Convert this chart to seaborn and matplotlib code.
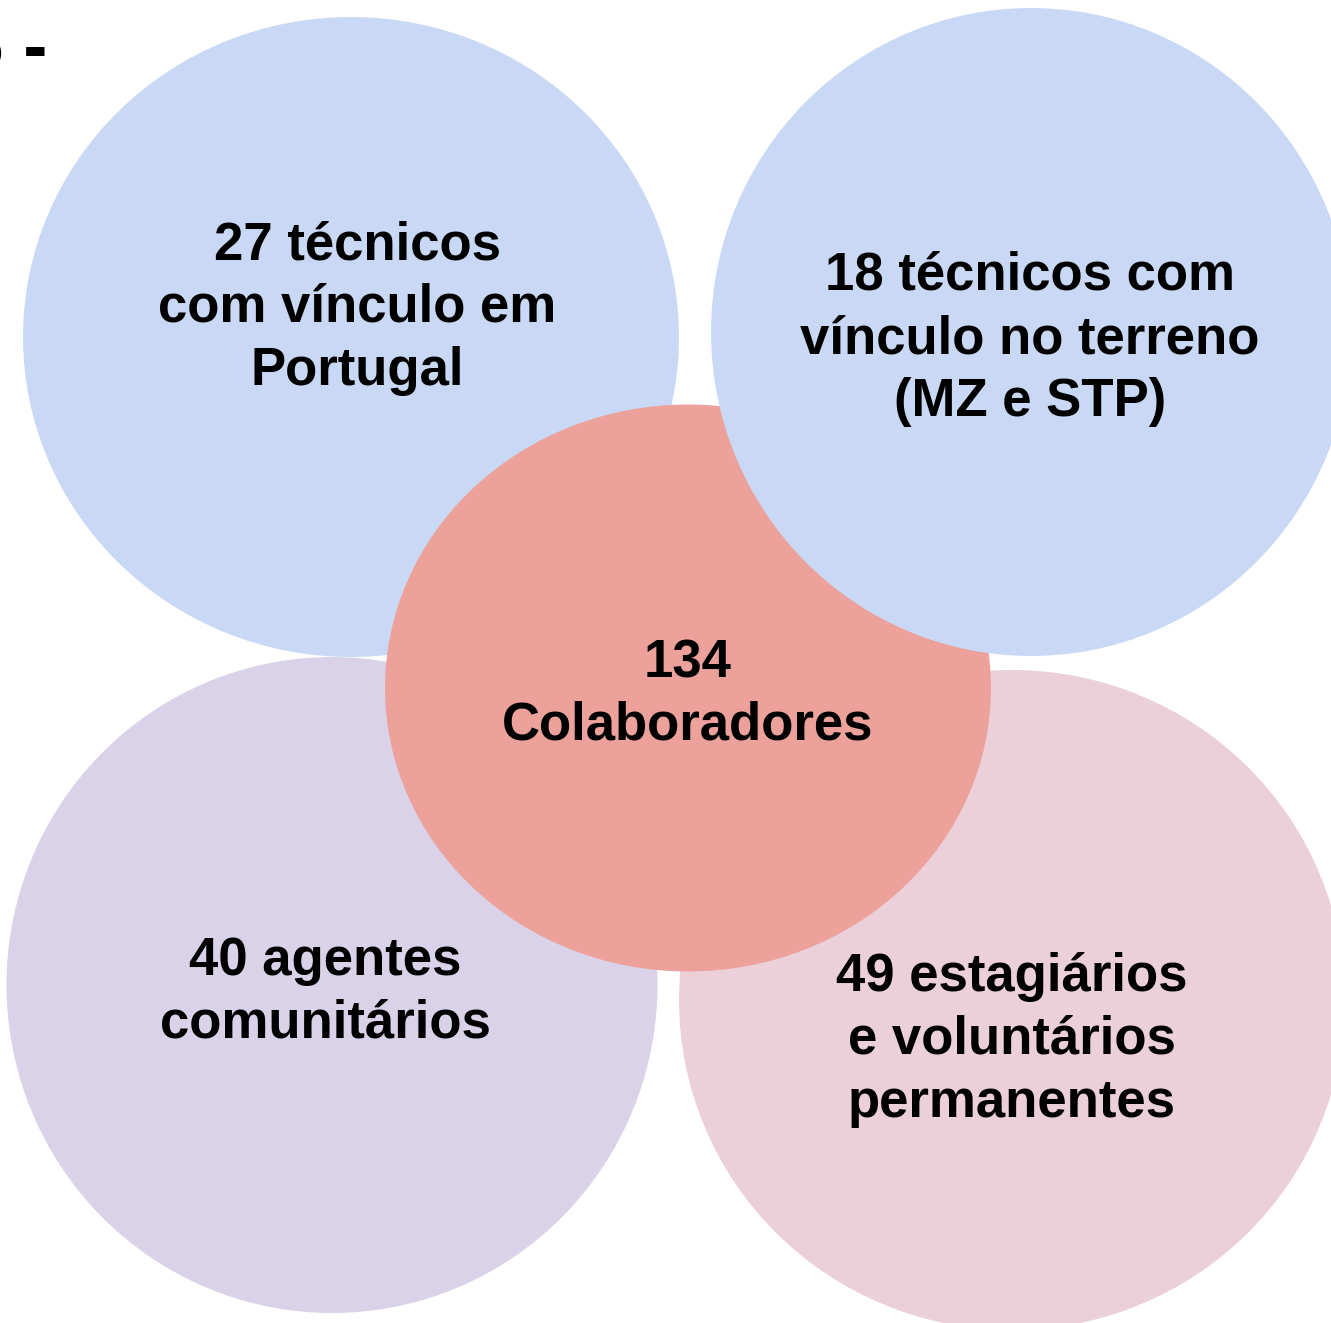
import matplotlib
matplotlib.use("Agg")
import matplotlib.pyplot as plt
from matplotlib.patches import Ellipse
import seaborn as sns

# ---- data ----
categories = ["técnicos com vínculo em Portugal",
              "técnicos com vínculo no terreno (MZ e STP)",
              "agentes comunitários",
              "estagiários e voluntários permanentes"]
counts = [27, 18, 40, 49]
total = 134
labels = ["27 técnicos\ncom vínculo em\nPortugal",
          "18 técnicos com\nvínculo no terreno\n(MZ e STP)",
          "40 agentes\ncomunitários",
          "49 estagiários\ne voluntários\npermanentes"]
center_label = "134\nColaboradores"

# ---- layout / style (pixel space) ----
W, H = 1331, 1323
circ_centers = [(351, 337), (1031, 332), (332, 985), (1012, 1000)]
circ_sizes = [(656, 640), (640, 648), (651, 656), (666, 660)]
circ_colors = ["#C9D9F5", "#C9D9F5", "#DAD2E8", "#EBD0DA"]
text_pos = [(357, 259), (1030, 290), (325, 975), (1012, 991)]
center_circ = (688, 688)
center_size = (606, 567)
center_color = "#ECA29B"
center_text = (688, 677)
pitch = 63

sns.set_style("white")
plt.rcParams["font.family"] = ["Liberation Sans", "DejaVu Sans"]

fig = plt.figure(figsize=(W / 100, H / 100), dpi=100)
ax = fig.add_axes([0, 0, 1, 1])
ax.set_xlim(0, W)
ax.set_ylim(H, 0)
ax.axis("off")

fs = 38

def draw_circle(c, s, col, z):
    ax.add_patch(Ellipse(c, s[0], s[1], facecolor=col, edgecolor="none", zorder=z))

def draw_text(pos, txt, z):
    for i, line in enumerate(txt.split("\n")):
        ax.text(pos[0], pos[1] + i * pitch, line, ha="center", va="baseline",
                fontsize=fs, fontweight="bold", color="black", zorder=z)

# order: top-left, bottom-left, bottom-right, center, top-right
for k in [0, 2, 3]:
    draw_circle(circ_centers[k], circ_sizes[k], circ_colors[k], 1)
draw_circle(center_circ, center_size, center_color, 2)
draw_circle(circ_centers[1], circ_sizes[1], circ_colors[1], 3)

for k in range(4):
    draw_text(text_pos[k], labels[k], 5)
draw_text(center_text, center_label, 5)

# cropped fragment from the source page at the top-left
ax.text(47, 69, "5 -", ha="right", va="baseline", fontsize=52,
        fontweight="bold", color="black", zorder=6)

fig.savefig("out.png", dpi=100)
